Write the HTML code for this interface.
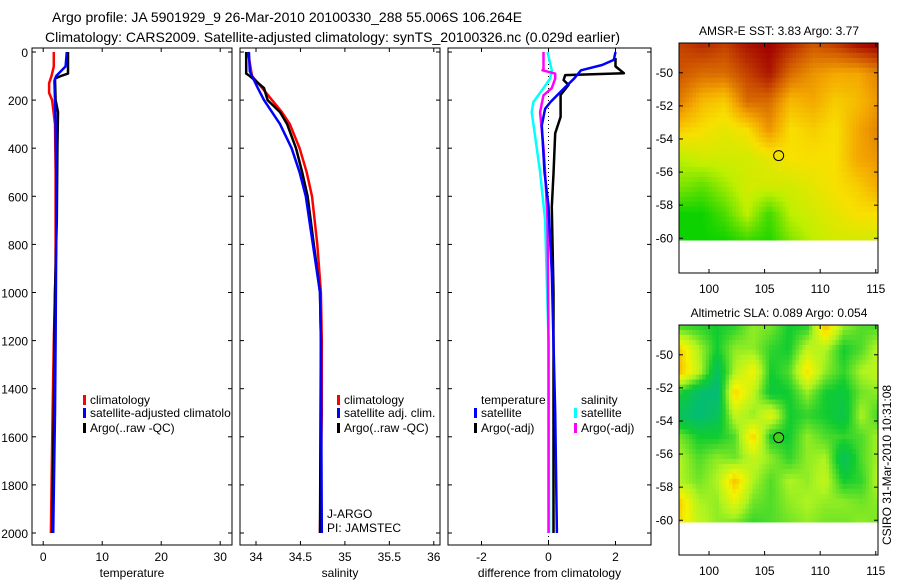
<!DOCTYPE html>
<html><head><meta charset="utf-8">
<style>
html,body{margin:0;padding:0;background:#fff;}
svg{display:block;font-family:"Liberation Sans",sans-serif;}
</style></head>
<body>
<svg id="chart" width="900" height="580" viewBox="0 0 900 580" xmlns="http://www.w3.org/2000/svg">
<text x="52" y="22" font-size="14">Argo profile: JA 5901929_9 26-Mar-2010 20100330_288 55.006S 106.264E</text>
<text x="45" y="42" font-size="14">Climatology: CARS2009. Satellite-adjusted climatology: synTS_20100326.nc (0.029d earlier)</text>
<g id="g"></g>
<text transform="translate(891,465) rotate(-90)" text-anchor="middle" font-size="12">CSIRO 31-Mar-2010 10:31:08</text>
</svg>
<script>
// ---- data ----
const depthTicks=[0,200,400,600,800,1000,1200,1400,1600,1800,2000];
const tempTicks=[0,10,20,30];
const salTicks=[34,34.5,35,35.5,36];
const diffTicks=[-2,0,2];
const tClimDepth=[0,60,100,130,170,200,300,500,900,1200,1500,2000];
const tClimVal=[1.8,1.8,1.4,1.0,1.0,1.5,2.0,2.1,2.1,1.8,1.6,1.3];
const tSatDepth=[0,60,100,120,200,300,500,800,1200,1500,2000];
const tSatVal=[4.0,3.8,2.2,1.9,2.0,2.1,2.2,2.2,2.1,2.0,1.7];
const tArgoDepth=[0,50,90,100,110,200,250,400,700,1000,1200,1500,2000];
const tArgoVal=[4.2,4.2,4.2,3.0,2.0,2.1,2.5,2.4,2.3,2.0,1.9,1.8,1.5];
const sClimDepth=[0,100,150,200,250,300,400,500,600,800,1000,1200,1500,2000];
const sClimVal=[33.91,33.955,34.07,34.18,34.29,34.38,34.49,34.57,34.63,34.69,34.73,34.74,34.74,34.72];
const sSatDepth=[0,80,150,200,250,300,400,500,600,800,1000,1200,2000];
const sSatVal=[33.92,33.93,34.02,34.09,34.18,34.27,34.40,34.49,34.56,34.64,34.72,34.73,34.74];
const sArgoDepth=[0,90,100,150,200,250,300,400,500,600,800,1000,1200,2000];
const sArgoVal=[33.89,33.89,33.93,34.09,34.13,34.27,34.35,34.45,34.52,34.58,34.65,34.72,34.73,34.72];
const dTSatDepth=[0,33,54,76,111,153,208,236,305,500,640,917,1500,2000];
const dTSatVal=[2.0,1.95,1.6,0.97,0.76,0.45,0.06,-0.1,-0.2,-0.12,0,0.1,0.2,0.25];
const dTArgoDepth=[25,60,88,96,117,137,179,270,338,505,645,1000,1500,2000];
const dTArgoVal=[2.0,2.0,2.25,0.5,0.45,0.6,0.36,0.36,0.2,0.15,0.1,0.15,0.15,0.15];
const dSSatDepth=[0,76,110,150,208,250,350,500,700,1200,2000];
const dSSatVal=[-0.03,0.1,0.05,-0.15,-0.45,-0.5,-0.4,-0.25,-0.1,0,0.02];
const dSArgoDepth=[0,70,76,90,110,150,180,250,400,500,700,1200,2000];
const dSArgoVal=[-0.15,-0.15,-0.18,0.2,0.2,0.1,-0.15,-0.25,-0.15,-0.1,-0.03,0,0];
const lonTicks=[100,105,110,115];
const latTicks=[-50,-52,-54,-56,-58,-60];
const sstGrid=[
[.85,.9,.85,.95,1,.9,.8,.85,.95,1],
[.8,.75,.75,.85,.95,.75,.65,.6,.6,.7],
[.7,.55,.5,.75,.75,.55,.6,.5,.55,.65],
[.5,.45,.4,.45,.65,.45,.5,.45,.6,.7],
[.3,.35,.35,.35,.4,.45,.45,.45,.6,.65],
[.2,.15,.25,.35,.35,.35,.4,.45,.5,.6],
[.02,.02,.12,.3,.1,.3,.35,.4,.45,.45],
[.02,.02,.02,.08,.05,.2,.3,.35,.35,.35]];
const slaGrid=[
[.4,.35,.3,.35,.5,.45,.3,.35,.9,.5,.4,.4],
[.85,.55,.3,.5,.5,.35,.3,.6,.55,.3,.4,.6],
[.9,.6,.15,.55,.75,.3,.4,.8,.5,.35,.55,.6],
[.3,.1,.05,.85,.6,.25,.3,.5,.3,.25,.45,.5],
[.15,.05,.15,.6,.5,.7,.3,.35,.3,.2,.55,.35],
[.45,.3,.3,.4,.85,.3,.3,.5,.4,.35,.4,.55],
[.55,.4,.5,.45,.6,.5,.35,.5,.55,.15,.4,.55],
[.55,.45,.55,.9,.55,.4,.55,.5,.6,.3,.35,.6],
[.85,.55,.5,.7,.45,.4,.5,.55,.5,.5,.45,.5],
[.8,.6,.5,.45,.35,.4,.45,.5,.45,.45,.5,.45]];
const argoLon=106.264, argoLat=-55.006;

// ---- drawing ----
const NS="http://www.w3.org/2000/svg";
const G=document.getElementById('g');
function mk(tag,attrs,parent){const e=document.createElementNS(NS,tag);for(const k in attrs)e.setAttribute(k,attrs[k]);(parent||G).appendChild(e);return e;}
const TOP=52,BOT=545;
const yD=d=>TOP+d*0.2405;
function panel(name,x0,x1,xmin,xmax,ticks,label,ylabels){
  const xs=v=>x0+(v-xmin)/(xmax-xmin)*(x1-x0);
  const r=mk('rect',{x:x0,y:TOP-4,width:x1-x0,height:BOT-TOP+4,fill:'none',stroke:'#000','stroke-width':1});
  
  
  depthTicks.forEach(d=>{
    mk('line',{x1:x0,x2:x0+4,y1:yD(d),y2:yD(d),stroke:'#000'});
    mk('line',{x1:x1,x2:x1-4,y1:yD(d),y2:yD(d),stroke:'#000'});
    if(ylabels){const t=mk('text',{x:28,y:yD(d)+5,'text-anchor':'end','font-size':12});t.textContent=d;
      
      }
  });
  ticks.forEach(v=>{
    mk('line',{x1:xs(v),x2:xs(v),y1:BOT,y2:BOT-4,stroke:'#000'});
    mk('line',{x1:xs(v),x2:xs(v),y1:TOP-4,y2:TOP,stroke:'#000'});
    const t=mk('text',{x:xs(v),y:561,'text-anchor':'middle','font-size':12});t.textContent=v;
    
    
  });
  const t=mk('text',{x:(x0+x1)/2,y:577,'text-anchor':'middle','font-size':12});t.textContent=label;
  
  
  return xs;
}
function line(xs,depths,vals,color,w,name){
  const p=depths.map((d,i)=>xs(vals[i]).toFixed(1)+','+yD(d).toFixed(1)).join(' ');
  const e=mk('polyline',{points:p,fill:'none',stroke:color,'stroke-width':w,'stroke-linejoin':'round'});
  
  
}
function legend(x,y,color,txt,name){
  if(color){mk('rect',{x:x,y:y-9,width:3,height:10,fill:color});}
  const t=mk('text',{x:x+7,y:y,'font-size':12});t.textContent=txt;
  
  
}
const LW=2.5;
// panel 1
const xT=panel('temperature-panel',32,232,-1.9,32,tempTicks,'temperature',true);
line(xT,tClimDepth,tClimVal,'#f00',LW,'temperature-climatology-line');
line(xT,tArgoDepth,tArgoVal,'#000',LW,'temperature-argo-line');
line(xT,tSatDepth,tSatVal,'#00f',LW,'temperature-satellite-line');
legend(83,404,'#f00','climatology','legend-climatology');
legend(83,417,'#00f','satellite-adjusted climatolo','legend-satellite-adjusted');
legend(83,432,'#000','Argo(..raw -QC)','legend-argo');
// panel 2
const xS=panel('salinity-panel',240,440,33.82,36.07,salTicks,'salinity',false);
line(xS,sClimDepth,sClimVal,'#f00',LW,'salinity-climatology-line');
line(xS,sArgoDepth,sArgoVal,'#000',LW,'salinity-argo-line');
line(xS,sSatDepth,sSatVal,'#00f',LW,'salinity-satellite-line');
legend(337,404,'#f00','climatology','legend-climatology-sal');
legend(337,417,'#00f','satellite adj. clim.','legend-satellite-sal');
legend(337,432,'#000','Argo(..raw -QC)','legend-argo-sal');
const j1=mk('text',{x:327,y:518,'font-size':12});j1.textContent='J-ARGO';


const j2=mk('text',{x:327,y:532,'font-size':12});j2.textContent='PI: JAMSTEC';


// panel 3
const xDf=panel('difference-panel',448,651,-3.0,3.06,diffTicks,'difference from climatology',false);
const zl=mk('line',{x1:xDf(0),x2:xDf(0),y1:TOP,y2:BOT,stroke:'#000','stroke-dasharray':'1,3'});


line(xDf,dSSatDepth,dSSatVal,'#0ff',LW,'diff-salinity-satellite-line');
line(xDf,dSArgoDepth,dSArgoVal,'#f0f',LW,'diff-salinity-argo-line');
line(xDf,dTArgoDepth,dTArgoVal,'#000',LW,'diff-temperature-argo-line');
line(xDf,dTSatDepth,dTSatVal,'#00f',LW,'diff-temperature-satellite-line');
legend(474,404,null,'temperature','legend-temperature-header');
legend(574,404,null,'salinity','legend-salinity-header');
legend(474,417,'#00f','satellite','legend-temp-satellite');
legend(474,432,'#000','Argo(-adj)','legend-temp-argo');
legend(574,417,'#0ff','satellite','legend-sal-satellite');
legend(574,432,'#f0f','Argo(-adj)','legend-sal-argo');

// maps
function lerpC(stops,v){
  for(let i=1;i<stops.length;i++){if(v<=stops[i][0]||i==stops.length-1){
    const a=stops[i-1],b=stops[i];let t=(v-a[0])/(b[0]-a[0]);t=Math.max(0,Math.min(1,t));
    return 'rgb('+[1,2,3].map(k=>Math.round(a[k]+(b[k]-a[k])*t)).join(',')+')';}}
}
const sstStops=[[0,0,208,0],[0.3,190,240,0],[0.45,248,224,0],[0.6,244,168,0],[0.8,208,88,0],[1,160,0,0]];
const slaStops=[[0,0,184,136],[0.3,16,204,48],[0.55,176,244,32],[0.75,244,244,0],[0.95,248,176,0]];
function sample(grid,fx,fy){
  const R=grid.length-1,C=grid[0].length-1;
  const x=Math.max(0,Math.min(C,fx*C)),y=Math.max(0,Math.min(R,fy*R));
  const i=Math.min(R-1,Math.floor(y)),j=Math.min(C-1,Math.floor(x));const u=x-j,v=y-i;
  return grid[i][j]*(1-u)*(1-v)+grid[i][j+1]*u*(1-v)+grid[i+1][j]*(1-u)*v+grid[i+1][j+1]*u*v;
}
function map(name,title,top,grid,stops,filled){
  const L=679,Rr=878,T=top,B=top+230;
  const lonX=lo=>L+(lo-97.3)/(115.2-97.3)*(Rr-L);
  const latY=la=>T+(-48.2-la)/(62.1-48.2)*(B-T);
  const tt=mk('text',{x:779,y:top-8,'text-anchor':'middle','font-size':12});tt.textContent=title;
  
  
  const mg=mk('g',{});
  
  
  const step=0.3;
  for(let la=-48.2;la>-60.1;la-=step){
    for(let lo=97.3;lo<115.2;lo+=step){
      const fx=(lo-97.3)/(115.2-97.3),fy=(-48.2-la)/(60.1-48.2);
      const v=sample(grid,fx,fy);
      const la2=Math.max(la-step,-60.1),lo2=Math.min(lo+step,115.2);
      mk('rect',{x:lonX(lo).toFixed(1),y:latY(la).toFixed(1),width:(lonX(lo2)-lonX(lo)+0.6).toFixed(1),height:(latY(la2)-latY(la)+0.6).toFixed(1),fill:lerpC(stops,v)},mg);
    }
  }
  const fr=mk('rect',{x:L,y:T,width:Rr-L,height:B-T,fill:'none',stroke:'#000'});
  
  
  lonTicks.forEach(lo=>{
    mk('line',{x1:lonX(lo),x2:lonX(lo),y1:B,y2:B-4,stroke:'#000'});
    mk('line',{x1:lonX(lo),x2:lonX(lo),y1:T,y2:T+4,stroke:'#000'});
    const t=mk('text',{x:lonX(lo),y:B+20,'text-anchor':'middle','font-size':12});t.textContent=lo;
    
    
  });
  latTicks.forEach(la=>{
    mk('line',{x1:L,x2:L+4,y1:latY(la),y2:latY(la),stroke:'#000'});
    mk('line',{x1:Rr,x2:Rr-4,y1:latY(la),y2:latY(la),stroke:'#000'});
    const t=mk('text',{x:673,y:latY(la)+4,'text-anchor':'end','font-size':12});t.textContent=la;
    
    
  });
  const c=mk('circle',{cx:lonX(argoLon),cy:latY(argoLat),r:5,fill:filled||'none',stroke:'#000','stroke-width':1});
  
  
}
map('sst-map','AMSR-E SST: 3.83 Argo: 3.77',43,sstGrid,sstStops,null);
map('sla-map','Altimetric SLA: 0.089 Argo: 0.054',325,slaGrid,slaStops,'#40d020');
</script>
</body></html>
